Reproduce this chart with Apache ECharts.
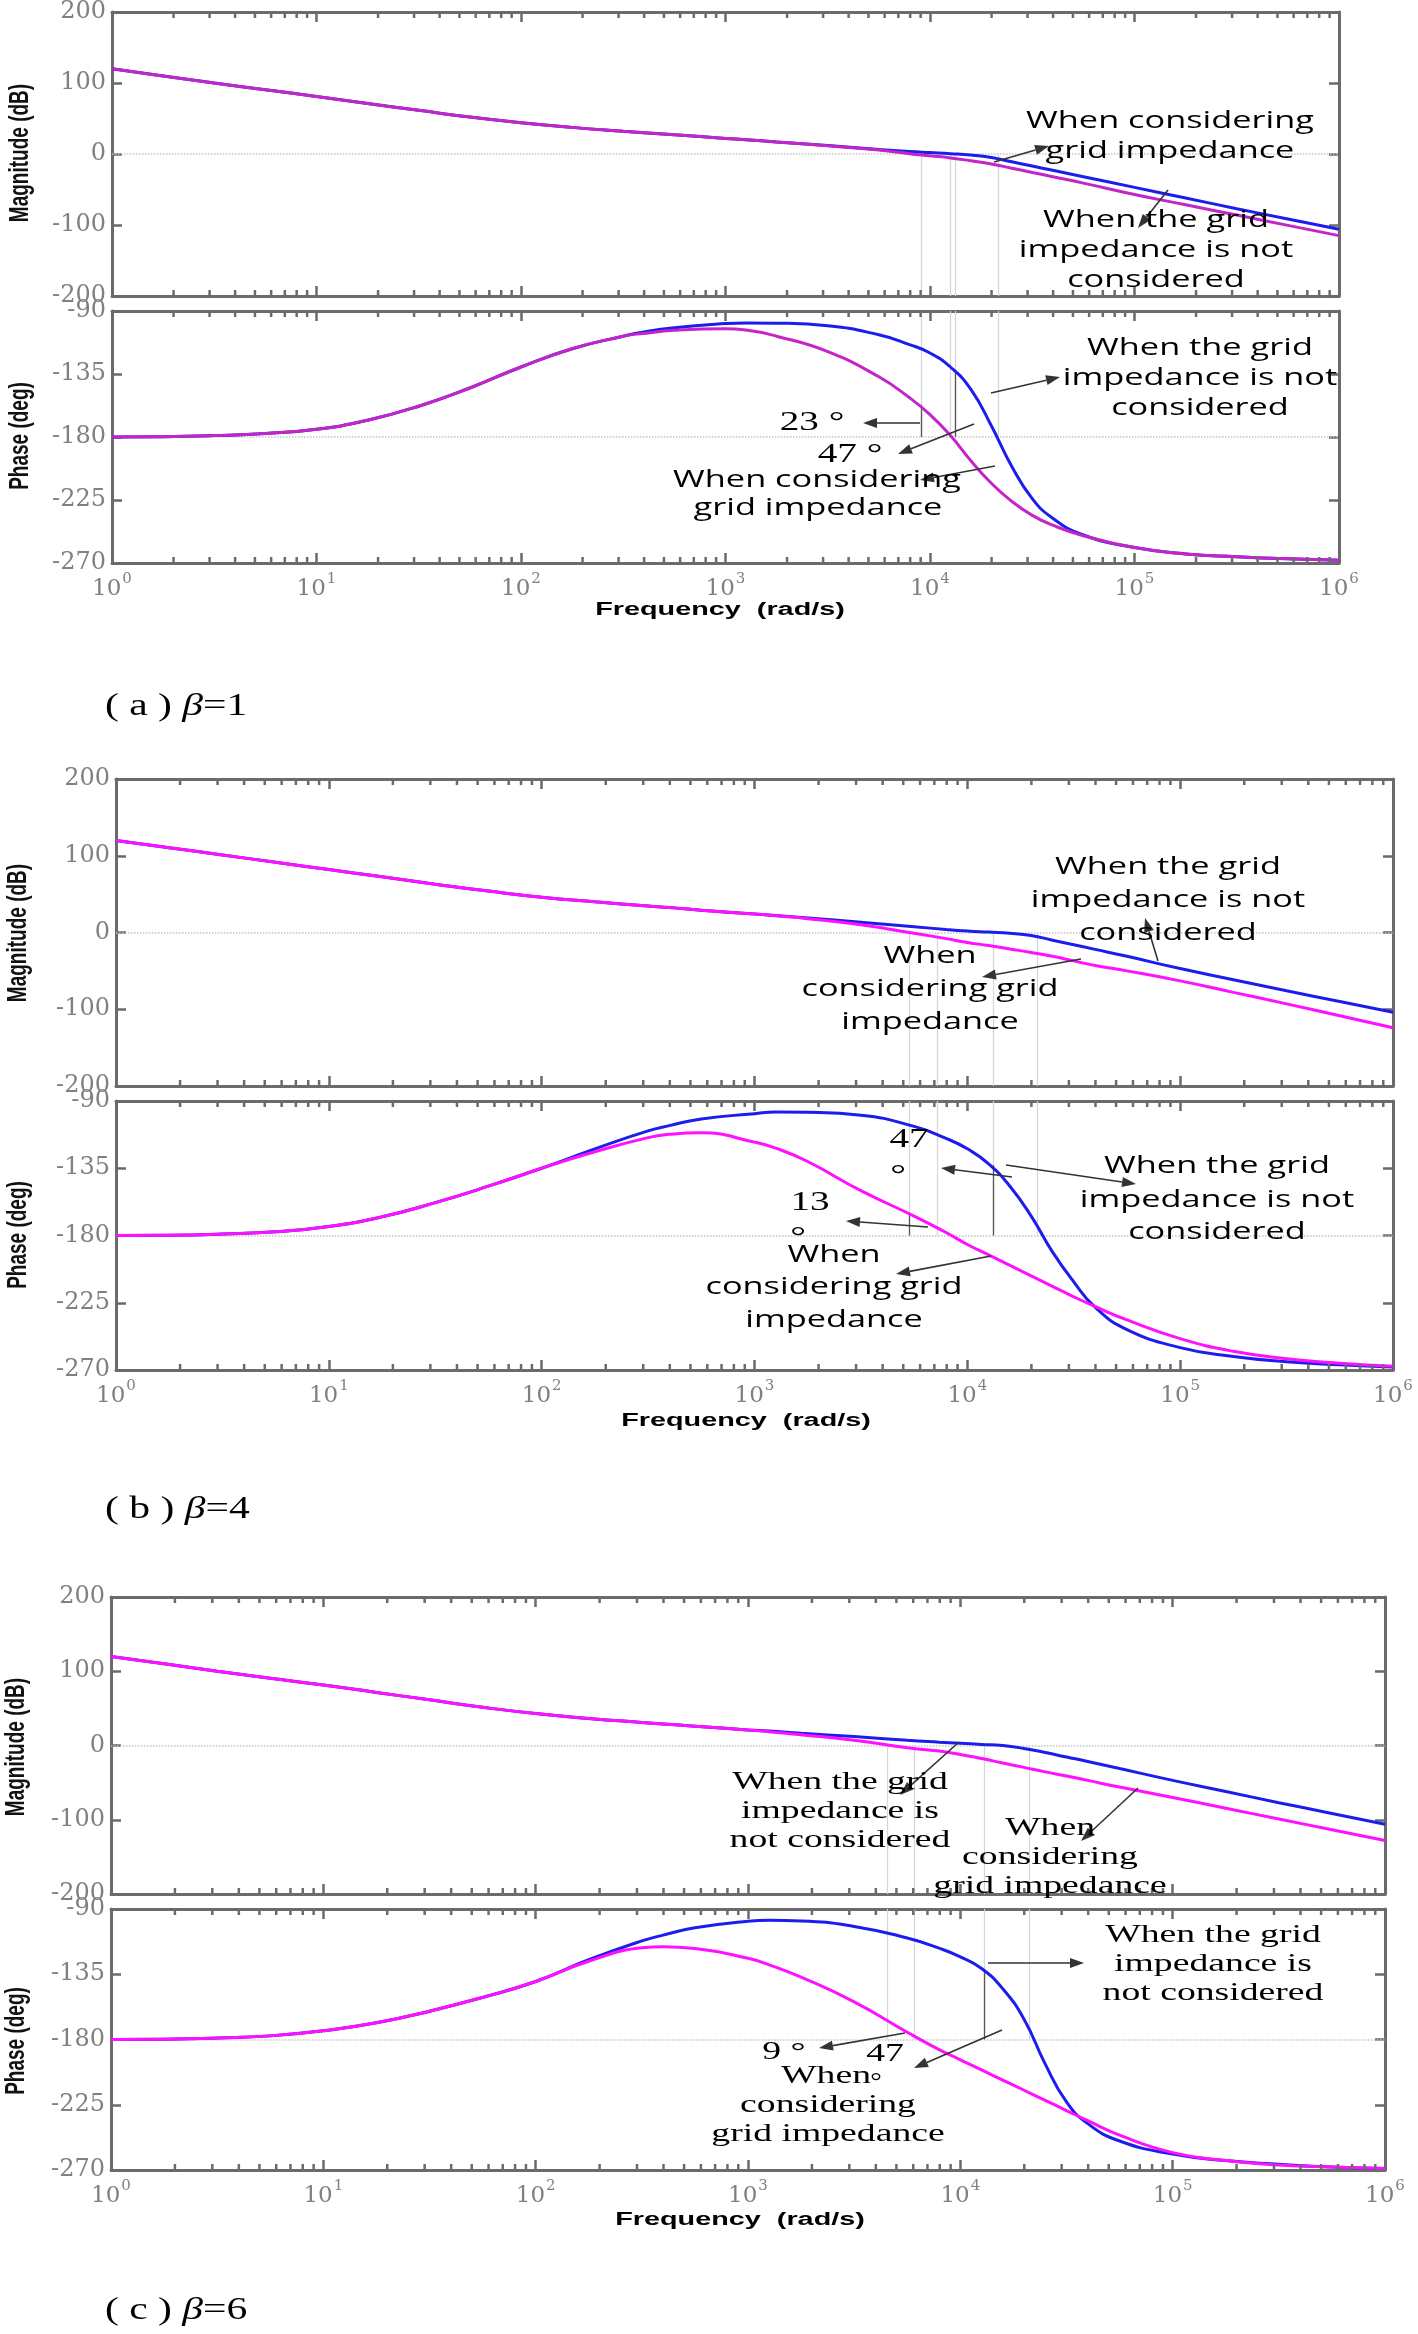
<!DOCTYPE html>
<html><head><meta charset="utf-8">
<script src="https://cdn.jsdelivr.net/npm/echarts@6/dist/echarts.min.js"></script>
<style>html,body{margin:0;padding:0;background:#fff}#c{width:1418px;height:2334px}</style>
</head><body><div id="c"></div>
<script>
// ---- data ----
const freq = [1, 1.778, 3.162, 5.623, 10, 17.78, 31.62, 56.23, 100, 177.8, 316.2, 398.1, 562.3, 1000, 1259, 1778, 3162, 5623, 7943, 10000, 12589, 15849, 19953, 25119, 31623, 39811, 56234, 100000, 177828, 316228, 562341, 1000000];

const magA_blue = [120, 110, 100, 90.5, 81, 71, 61.5, 52, 44, 37.5, 32, 30, 27, 22, 20, 17, 12, 6.5, 3.5, 2, 0.5, -1.5, -5, -11, -17, -23, -32, -47, -62, -77, -91.5, -106];
const magA_mag  = [120, 110, 100, 90.5, 81, 71, 61.5, 52, 44, 37.5, 32, 30, 27, 22, 20, 17, 11.5, 5.5, 0.5, -2.5, -5.5, -9.5, -14, -20, -26, -32, -41, -57, -71.5, -86, -100.5, -115];
const phA_blue  = [-180, -179.8, -179, -177.5, -174.5, -168, -158, -145, -130, -117, -108, -105, -102, -99, -98.5, -98.7, -100.5, -107, -114, -120, -130, -146, -172, -201, -224, -238, -250, -259, -263.5, -265.5, -267, -268];
const phA_mag   = [-180, -179.8, -179, -177.5, -174.5, -168, -158, -145, -130, -117, -108, -106, -103.8, -102.7, -103.6, -108, -119, -137, -152, -164, -179, -197, -213, -226, -236, -243, -250.5, -259, -263.5, -265.5, -267, -268];

const magB_blue = [120, 110.5, 101, 91.5, 82, 72.5, 63, 54, 46, 40, 34.5, 32.5, 29, 24, 22, 19, 13.5, 7.5, 4, 2, 0.5, -1, -4, -10, -16, -22, -31, -47, -61.5, -76, -90, -104];
const magB_mag  = [120, 110.5, 101, 91.5, 82, 72.5, 63, 54, 46, 40, 34.5, 32.5, 29, 24, 21.7, 18, 10, -1, -8, -13, -17, -21.5, -26, -31, -37, -43, -50, -63, -78, -93, -108.5, -124];
const phB_blue  = [-180, -179.8, -179, -177.5, -174, -167.5, -158, -147, -135, -122, -110, -106.5, -102, -98.5, -97.4, -97.6, -99.5, -107, -115, -122, -132, -147, -167, -191, -211, -228, -243, -255, -261, -264.5, -266.5, -268];
const phB_mag   = [-180, -179.8, -179, -177.5, -174, -167.5, -158, -147, -135, -124, -114.5, -112.3, -111.3, -117.5, -121.5, -130.5, -150, -167, -178, -186, -193, -200, -207, -214, -221, -227.5, -236.5, -249, -257.5, -262.5, -265.5, -267.5];

const magC_blue = [120, 110, 100, 90.5, 81.5, 71.5, 61.5, 51.5, 43, 36.5, 31, 29, 26, 21, 19.5, 16.5, 12, 7, 4.5, 3, 1.5, 0, -4, -9.5, -15.5, -21.5, -31, -47, -62, -77, -91.5, -106];
const magC_mag  = [120, 110, 100, 90.5, 81.5, 71.5, 61.5, 51.5, 43, 36.5, 31, 29, 26, 21, 18.5, 14.5, 7, -3, -7.5, -12, -17.5, -23.5, -29.5, -35.5, -41, -47, -56, -70, -84.5, -99, -113.5, -128];
const phC_blue  = [-180, -179.8, -179, -177.5, -174, -168.5, -160.5, -151, -140, -125, -112, -108, -103, -98.5, -97.8, -98.2, -102, -110, -117, -123, -131, -145, -166, -197, -223, -238, -250, -259, -263.5, -266, -268, -269];
const phC_mag   = [-180, -179.8, -179, -177.5, -174, -168.5, -160.5, -151, -140, -126, -116.8, -116, -117.2, -124, -128.5, -137, -154, -175, -187, -194, -201, -208, -215, -222, -229, -236, -246, -258, -263.5, -266.5, -268, -269];

// crossover marker frequencies (thin vertical lines) and phase-margin markers
const crossA = [9036, 12530, 13240, 21530];
const crossB = [5358, 7194, 13300, 21380];
const crossC = [4519, 6053, 13030, 21130];
const pmA = [[9036, -157], [13240, -133]];
const pmB = [[5358, -166], [13300, -133]];
const pmC = [[13030, -133]];

const magRange = [-200, 200], magStep = 100;
const phRange = [-270, -90], phStep = 45;
const decades = [0, 1, 2, 3, 4, 5, 6];
const minorMult = [2, 3, 4, 5, 6, 7, 8, 9];

const BLUE = '#1c1cee';
const MAG_A = '#c425c8';
const MAG_BC = '#ff10ff';
const AX = '#6b6b6b';

// ---- layout ----
const grids = [
  {left: 112, top: 10, width: 1227, height: 286},
  {left: 112, top: 311, width: 1227, height: 252},
  {left: 116, top: 779, width: 1277, height: 307},
  {left: 116, top: 1101, width: 1277, height: 269},
  {left: 111, top: 1597, width: 1274, height: 297},
  {left: 111, top: 1909, width: 1274, height: 261}
];

const minorTicks = [];
decades.slice(0, 6).forEach(d => minorMult.forEach(m => minorTicks.push([m * Math.pow(10, d), 0])));

const xAxes = [], yAxes = [], series = [];
grids.forEach((g, i) => {
  const isPhase = i % 2 === 1;
  const lineStyle = {color: AX, width: 3};
  xAxes.push({
    type: 'log', logBase: 10, min: 1, max: 1e6, splitNumber: 6, gridIndex: i, position: 'bottom',
    axisLine: {show: true, onZero: false, lineStyle},
    axisTick: {show: true, inside: true, length: 10, lineStyle: {color: AX, width: 2.5}},
    splitLine: {show: false},
    axisLabel: isPhase ? {
      show: true, margin: 9, color: '#808080',
      formatter: v => '{b|10}{e|' + Math.round(Math.log10(v)) + '}',
      rich: {
        b: {fontFamily: 'DejaVu Serif', fontSize: 23, color: '#808080', verticalAlign: 'bottom', padding: [6, 0, 0, 0]},
        e: {fontFamily: 'DejaVu Serif', fontSize: 15, color: '#808080', verticalAlign: 'top', padding: [0, 0, 0, 1]}
      }
    } : {show: false}
  });
  xAxes.push({
    type: 'log', logBase: 10, min: 1, max: 1e6, splitNumber: 6, gridIndex: i, position: 'top',
    axisLine: {show: true, onZero: false, lineStyle},
    axisTick: {show: true, inside: true, length: 10, lineStyle: {color: AX, width: 2.5}},
    splitLine: {show: false}, axisLabel: {show: false}
  });
  const rng = isPhase ? phRange : magRange, step = isPhase ? phStep : magStep;
  yAxes.push({
    type: 'value', gridIndex: i, position: 'left', min: rng[0], max: rng[1], interval: step,
    axisLine: {show: true, onZero: false, lineStyle},
    axisTick: {show: true, inside: true, length: 10, lineStyle: {color: AX, width: 2.5}},
    splitLine: {show: false},
    axisLabel: {show: true, margin: 6, color: '#808080', fontFamily: 'DejaVu Serif', fontSize: 24, showMinLabel: true, showMaxLabel: true}
  });
  yAxes.push({
    type: 'value', gridIndex: i, position: 'right', min: rng[0], max: rng[1], interval: step,
    axisLine: {show: true, onZero: false, lineStyle},
    axisTick: {show: true, inside: true, length: 10, lineStyle: {color: AX, width: 2.5}},
    splitLine: {show: false}, axisLabel: {show: false}
  });
});

function mkLine(i, values, color, extra) {
  return Object.assign({
    type: 'line', xAxisIndex: 2 * i, yAxisIndex: 2 * i, showSymbol: false, symbol: 'none',
    smooth: 0.5, silent: true, z: 10,
    lineStyle: {color, width: 3}, data: freq.map((f, k) => [f, values[k]])
  }, extra || {});
}

function markLines(i, cross, pm) {
  const isPhase = i % 2 === 1;
  const data = [];
  data.push({yAxis: isPhase ? -180 : 0, lineStyle: {type: 'dotted', color: '#c4c4c4', width: 1.5}});
  cross.forEach(f => {
    if (isPhase) data.push([{coord: [f, -90], lineStyle: {color: '#d6d6d6', width: 1.2, type: 'solid'}}, {coord: [f, -180]}]);
    else data.push([{coord: [f, 0], lineStyle: {color: '#d6d6d6', width: 1.2, type: 'solid'}}, {coord: [f, -200]}]);
  });
  if (isPhase) pm.forEach(p => data.push([{coord: [p[0], p[1]], lineStyle: {color: '#555', width: 1.3, type: 'solid'}}, {coord: [p[0], -180]}]));
  return {silent: true, symbol: ['none', 'none'], label: {show: false}, animation: false, z: 2, data};
}

function tickSeries(i) {
  return {
    type: 'custom', xAxisIndex: 2 * i, yAxisIndex: 2 * i, silent: true, clip: false, z: 20,
    data: minorTicks,
    renderItem(params, api) {
      const cs = params.coordSys;
      const x = api.coord([api.value(0), 0])[0];
      const st = {stroke: AX, lineWidth: 2.5};
      return {type: 'group', children: [
        {type: 'line', shape: {x1: x, y1: cs.y + cs.height, x2: x, y2: cs.y + cs.height - 6}, style: st},
        {type: 'line', shape: {x1: x, y1: cs.y, x2: x, y2: cs.y + 6}, style: st}
      ]};
    }
  };
}

const panels = [
  [magA_blue, magA_mag, MAG_A, crossA, []],
  [phA_blue, phA_mag, MAG_A, crossA, pmA],
  [magB_blue, magB_mag, MAG_BC, crossB, []],
  [phB_blue, phB_mag, MAG_BC, crossB, pmB],
  [magC_blue, magC_mag, MAG_BC, crossC, []],
  [phC_blue, phC_mag, MAG_BC, crossC, pmC]
];
panels.forEach((p, i) => {
  series.push(mkLine(i, p[0], BLUE, {markLine: markLines(i, p[3], p[4])}));
  series.push(mkLine(i, p[1], p[2]));
  series.push(tickSeries(i));
});

// ---- annotations ----
const SANS = '24px "Open Sans"', SANS_SX = 1.43;
const SERIF = '26px "Liberation Serif"', SERIF_SX = 1.45;
const DEG = '28px "Liberation Serif"', DEG_SX = 1.4;
const G = [];
function txt(s, x, y, font, sx) {
  G.push({type: 'text', x, y, scaleX: sx, z: 60, silent: true,
    style: {text: s, font, fill: '#000', align: 'center', verticalAlign: 'middle', textAlign: 'center', textVerticalAlign: 'middle'}});
}
function arrow(x1, y1, x2, y2) {
  const a = Math.atan2(y2 - y1, x2 - x1), L = 14, W = 5;
  const bx = x2 - L * Math.cos(a), by = y2 - L * Math.sin(a);
  G.push({type: 'line', z: 55, silent: true, shape: {x1, y1, x2: bx, y2: by}, style: {stroke: '#333', lineWidth: 1.6}});
  G.push({type: 'polygon', z: 55, silent: true, shape: {points: [[x2, y2], [bx - W * Math.sin(a), by + W * Math.cos(a)], [bx + W * Math.sin(a), by - W * Math.cos(a)]]}, style: {fill: '#333'}});
}
const S = (s, x, y) => txt(s, x, y, SANS, SANS_SX);
const R = (s, x, y) => txt(s, x, y, SERIF, SERIF_SX);
const D = (s, x, y) => txt(s, x, y, DEG, DEG_SX);

// (a) magnitude
S('When considering', 1170, 121); S('grid impedance', 1170, 151);
arrow(994, 162, 1049, 146);
S('When the grid', 1156, 220); S('impedance is not', 1156, 250); S('considered', 1156, 280);
arrow(1168, 190, 1138, 228);
// (a) phase
S('When the grid', 1200, 348); S('impedance is not', 1200, 378); S('considered', 1200, 408);
arrow(991, 393, 1060, 377);
D('23 °', 812, 423); arrow(920, 423, 863, 423);
D('47 °', 850, 455); arrow(974, 424, 898, 454);
S('When considering', 817, 480); S('grid impedance', 818, 508);
arrow(995, 466, 920, 480);

// (b) magnitude
S('When the grid', 1168, 867); S('impedance is not', 1168, 900); S('considered', 1168, 933);
arrow(1158, 961, 1145, 918);
S('When', 930, 956); S('considering grid', 930, 989); S('impedance', 930, 1022);
arrow(1081, 959, 982, 977);
// (b) phase
D('47', 909, 1140); D('°', 898, 1176);
arrow(1012, 1177, 941, 1168);
D('13', 810, 1203); D('°', 798, 1238);
arrow(928, 1227, 846, 1221);
S('When the grid', 1217, 1166); S('impedance is not', 1217, 1200); S('considered', 1217, 1232);
arrow(1006, 1165, 1136, 1184);
S('When', 834, 1255); S('considering grid', 834, 1287); S('impedance', 834, 1320);
arrow(991, 1256, 896, 1274);

// (c) magnitude
R('When the grid', 840, 1782); R('impedance is', 840, 1811); R('not considered', 840, 1840);
arrow(959, 1742, 900, 1795);
R('When', 1050, 1828); R('considering', 1050, 1857); R('grid impedance', 1050, 1886);
arrow(1138, 1788, 1081, 1841);
// (c) phase
R('When the grid', 1213, 1935); R('impedance is', 1213, 1964); R('not considered', 1213, 1993);
arrow(988, 1963, 1084, 1963);
R('9 °', 784, 2052); arrow(905, 2033, 819, 2048);
R('47', 885, 2054); arrow(1002, 2030, 914, 2068);
R('When', 826, 2076); txt('°', 876, 2083, '24px "Liberation Serif"', 1.2);
R('considering', 828, 2105); R('grid impedance', 828, 2134);

// axis names
function vname(s, x, y) {
  G.push({type: 'text', x, y, rotation: Math.PI / 2, scaleY: 1.45, z: 60, silent: true,
    style: {text: s, font: 'bold 19px "Liberation Sans"', fill: '#111', align: 'center', verticalAlign: 'middle', textAlign: 'center', textVerticalAlign: 'middle'}});
}
vname('Magnitude (dB)', 20, 153); vname('Phase (deg)', 20, 436);
vname('Magnitude (dB)', 18, 933); vname('Phase (deg)', 18, 1235);
vname('Magnitude (dB)', 16, 1747); vname('Phase (deg)', 16, 2041);
function fname(x, y) { txt('Frequency  (rad/s)', x, y, 'bold 18px "Liberation Sans"', 1.6); }
fname(720, 610); fname(746, 1421); fname(740, 2220);

// captions
function caption(letter, beta, y) {
  G.push({type: 'text', x: 105, y, scaleX: 1.3, z: 60, silent: true,
    style: {text: '{n|( ' + letter + ' ) }{i|β}{n|=' + beta + '}', align: 'left', verticalAlign: 'middle', textAlign: 'left', textVerticalAlign: 'middle',
      rich: {n: {font: '32px "Liberation Serif"', fill: '#000'}, i: {font: 'italic 32px "Liberation Serif"', fill: '#000'}}}});
}
caption('a', 1, 707); caption('b', 4, 1510); caption('c', 6, 2311);

const chart = echarts.init(document.getElementById('c'), null, {renderer: 'canvas'});
chart.setOption({
  animation: false,
  backgroundColor: '#fff',
  grid: grids.map(g => Object.assign({containLabel: false}, g)),
  xAxis: xAxes,
  yAxis: yAxes,
  series,
  graphic: {elements: G}
});
</script></body></html>
